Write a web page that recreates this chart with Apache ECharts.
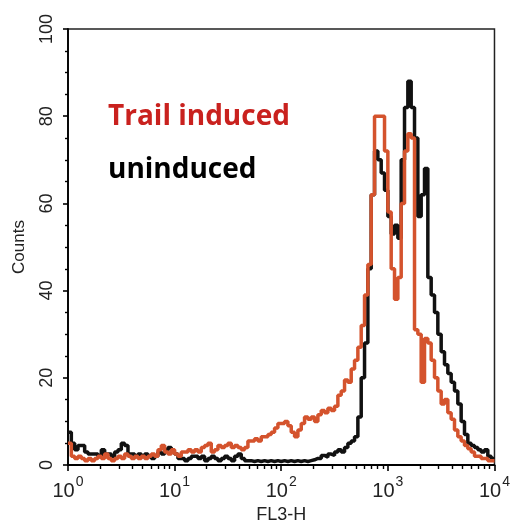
<!DOCTYPE html>
<html>
<head>
<meta charset="utf-8">
<script src="https://cdn.jsdelivr.net/npm/echarts@6/dist/echarts.min.js"></script>
<style>
  html, body { margin: 0; padding: 0; background: #fff; }
  #chart { width: 513px; height: 529px; }
</style>
</head>
<body>
<div id="chart"></div>
<script>
// FL3-H histogram: 128 channels spanning four log decades (32 channels per decade)
const channelsPerDecade = 32;
const decadeExponents = ['0', '1', '2', '3', '4'];

// Counts per channel, uninduced cells
const uninduced = [
  7.5, 5, 3.5, 4.5, 4.5, 3, 2.5, 2.5, 2.5, 2, 3.5, 2.5, 2.5, 2, 3, 3.5,
  5, 4.5, 2.5, 2.5, 2, 2.5, 2, 2.5, 2, 1.5, 2, 3, 2.5, 3.5, 4, 3,
  2.5, 1.5, 1.5, 1, 1.5, 2, 2, 1.5, 2, 1, 1.5, 2, 1.5, 1, 1.5, 2,
  1.5, 1, 2, 2.5, 1.5, 1, 1, 0.8, 1, 0.8, 1, 0.8, 1, 0.8, 1, 0.8,
  1, 0.8, 1, 0.8, 1, 0.8, 1, 0.8, 1, 1.2, 1.5, 1.5, 2.2, 1.8, 2.5, 2.2,
  3, 3.5, 3, 4, 5, 5.5, 6.5, 11, 20, 28, 45, 62, 72, 70, 67, 63,
  57, 53, 55, 52, 70, 82, 88, 82, 75, 57, 62, 68, 43, 39, 35, 30,
  26, 23, 21, 19, 17, 14, 10, 7, 5, 4.5, 4, 3.5, 3, 3.5, 2, 1.5
];

// Counts per channel, Trail induced cells
const trailInduced = [
  5, 2, 1.5, 2, 1.5, 1, 1.5, 1, 1.5, 2, 1.5, 2.5, 1.5, 1, 1.5, 2,
  1.5, 2.5, 2, 1.5, 2, 1.5, 2, 1.5, 2, 2.5, 2, 3.5, 4.5, 3, 2.5, 3.5,
  2.5, 2, 3, 3, 3.5, 3, 3.5, 3, 4, 4.5, 5, 3, 3.5, 4.5, 4, 4.5,
  5, 4, 4.5, 4, 3.5, 4, 5.5, 5.5, 6, 5.5, 6.5, 6.5, 7, 7.5, 8.5, 9.5,
  9.5, 10, 9, 7.5, 6.5, 8, 9.5, 11, 10.5, 11, 10, 11.5, 12.5, 12, 13, 12.5,
  13.5, 16, 17, 19.5, 19, 22, 24, 27, 32, 39, 46, 62, 80, 80, 80, 72,
  58, 45, 38, 43, 60, 72, 76, 75, 31, 30, 19, 29, 28, 24, 20, 17,
  14, 15, 12, 10.5, 8, 6.5, 5.5, 4.5, 3.7, 3, 2, 2, 1.5, 1.5, 1, 1
];

// Each channel value is held across its bin; the last bin is closed at the right edge
function toSteps(counts) {
  const pts = counts.map((v, i) => [i, v]);
  pts.push([counts.length, counts[counts.length - 1]]);
  return pts;
}

const maxChannel = channelsPerDecade * (decadeExponents.length - 1);
const majorTicks = decadeExponents.map((_, d) => d * channelsPerDecade);
const minorTicks = [];
for (let d = 0; d < decadeExponents.length - 1; d++) {
  for (let k = 2; k <= 9; k++) {
    minorTicks.push(channelsPerDecade * (d + Math.log10(k)));
  }
}

const narrow = '"Liberation Sans Narrow", "Arial Narrow", "Liberation Sans", Arial, sans-serif';

const chart = echarts.init(document.getElementById('chart'), null, { renderer: 'canvas' });
chart.setOption({
  animation: false,
  backgroundColor: '#ffffff',
  grid: {
    left: 68, right: 13, top: 29, bottom: 63,
    show: true, borderColor: '#222', borderWidth: 1.5,
    containLabel: false
  },
  xAxis: [
    {
      type: 'value', min: 0, max: maxChannel, position: 'bottom',
      axisLine: { show: true, onZero: false, lineStyle: { color: '#000', width: 1.8 } },
      axisTick: { show: true, length: 6, customValues: majorTicks, lineStyle: { color: '#000', width: 1.6 } },
      axisLabel: {
        customValues: majorTicks,
        margin: 10,
        formatter: v => '{b|10}{s|' + decadeExponents[Math.round(v / channelsPerDecade)] + '}',
        rich: {
          b: { fontSize: 20, fontFamily: narrow, color: '#222', verticalAlign: 'bottom', lineHeight: 26 },
          s: { fontSize: 14, fontFamily: narrow, color: '#222', verticalAlign: 'top', lineHeight: 26, padding: [0, 0, 10, 1] }
        }
      },
      splitLine: { show: false },
      name: 'FL3-H', nameLocation: 'middle', nameGap: 41,
      nameTextStyle: { fontSize: 18, fontFamily: narrow, color: '#222' }
    },
    {
      type: 'value', min: 0, max: maxChannel, position: 'bottom',
      axisLine: { show: false },
      axisTick: { show: true, length: 4, customValues: minorTicks, lineStyle: { color: '#000', width: 1.4 } },
      axisLabel: { show: false },
      splitLine: { show: false }
    }
  ],
  yAxis: {
    type: 'value', min: 0, max: 100, interval: 20,
    axisLine: { show: true, onZero: false, lineStyle: { color: '#000', width: 1.8 } },
    axisTick: { show: true, length: 5, lineStyle: { color: '#000', width: 1.6 } },
    minorTick: { show: true, splitNumber: 4, length: 3, lineStyle: { color: '#000', width: 1.4 } },
    axisLabel: { rotate: 90, margin: 12, fontSize: 18, fontFamily: narrow, color: '#222' },
    splitLine: { show: false },
    minorSplitLine: { show: false },
    name: 'Counts', nameLocation: 'middle', nameGap: 40,
    nameTextStyle: { fontSize: 17, fontFamily: narrow, color: '#222' }
  },
  series: [
    {
      name: 'uninduced', type: 'line', step: 'end', xAxisIndex: 0,
      data: toSteps(uninduced), showSymbol: false, symbol: 'none',
      lineStyle: { color: '#111', width: 3.5 }, z: 2
    },
    {
      name: 'Trail induced', type: 'line', step: 'end', xAxisIndex: 0,
      data: toSteps(trailInduced), showSymbol: false, symbol: 'none',
      lineStyle: { color: '#d4532d', width: 3.5 }, z: 3
    }
  ],
  graphic: [
    {
      type: 'text', left: 108, top: 103,
      style: { text: 'Trail induced', fill: '#c9211e', font: 'bold 28px "Open Sans", sans-serif' }
    },
    {
      type: 'text', left: 108, top: 156,
      style: { text: 'uninduced', fill: '#000', font: 'bold 28px "Open Sans", sans-serif' }
    }
  ]
});
</script>
</body>
</html>
